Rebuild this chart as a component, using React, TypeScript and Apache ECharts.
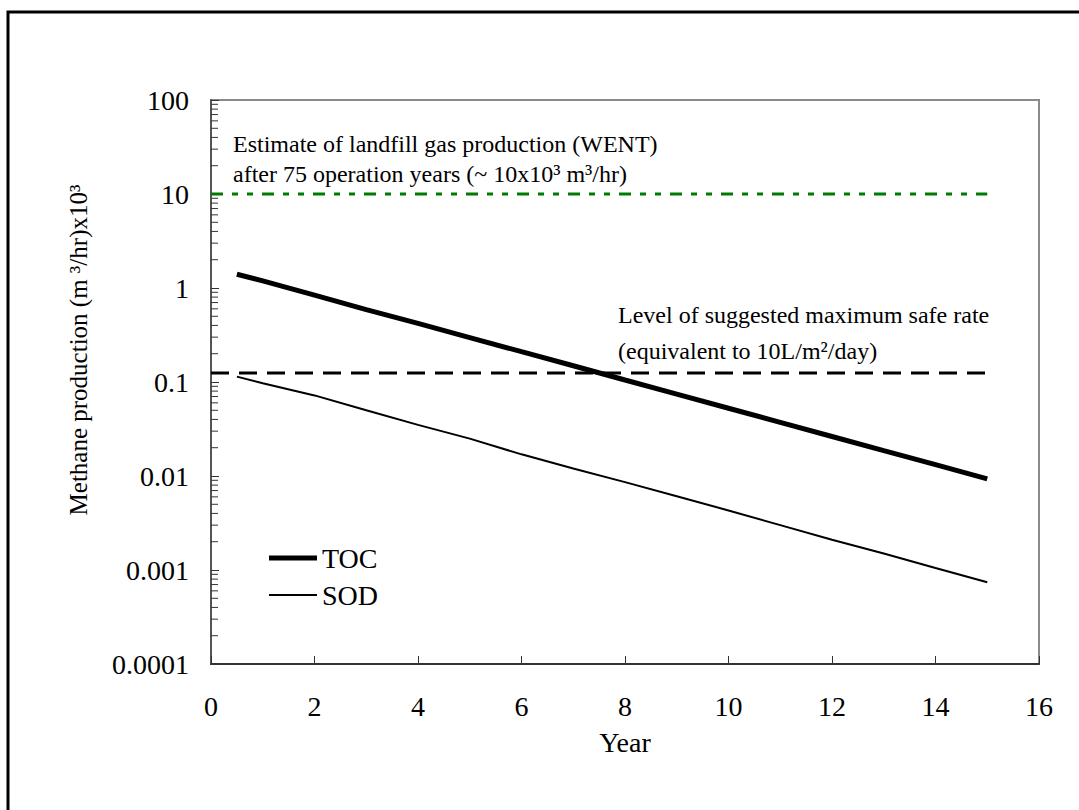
import React, { useEffect, useRef } from "react";
import * as echarts from "echarts";

const years = [0.5, 1, 2, 3, 4, 5, 6, 7, 8, 9, 10, 11, 12, 13, 14, 15];
const tocValues = [1.4, 1.19, 0.84, 0.59, 0.42, 0.297, 0.21, 0.149, 0.105, 0.0744, 0.0526, 0.0372, 0.0263, 0.0186, 0.0132, 0.0093];
const sodValues = [0.114, 0.097, 0.072, 0.05, 0.035, 0.025, 0.017, 0.012, 0.0086, 0.0061, 0.0043, 0.003, 0.0021, 0.0015, 0.00105, 0.00074];
const wentLevel = 10;
const safeLevel = 0.125;
const refLineYears = [0, 15];
const yTickLabels = ["0.0001", "0.001", "0.01", "0.1", "1", "10", "100"];
const xTicks = [0, 2, 4, 6, 8, 10, 12, 14, 16];
const minorMultipliers = [2, 3, 4, 5, 6, 7, 8, 9];
const decades = [0.0001, 0.001, 0.01, 0.1, 1, 10];

const FONT = "'Liberation Serif', 'Times New Roman', serif";

export default function App() {
  const ref = useRef<HTMLDivElement>(null);
  useEffect(() => {
    if (!ref.current) return;
    const chart = echarts.init(ref.current, undefined, { renderer: "svg" });
    const minorTicks: number[][] = [];
    decades.forEach((d) => minorMultipliers.forEach((m) => minorTicks.push([0, d * m])));

    const option: any = {
      animation: false,
      backgroundColor: "#fff",
      textStyle: { fontFamily: FONT, color: "#000" },
      grid: {
        left: 211,
        top: 100,
        right: 40,
        bottom: 146,
        show: true,
        borderColor: "#8a8a8a",
        borderWidth: 2,
      },
      xAxis: {
        type: "value",
        min: xTicks[0],
        max: xTicks[xTicks.length - 1],
        interval: 2,
        axisLine: { lineStyle: { color: "#333", width: 2 } },
        axisTick: { inside: true, length: 8, lineStyle: { color: "#333", width: 1 } },
        axisLabel: { fontSize: 28, color: "#000", fontFamily: FONT, margin: 28 },
        splitLine: { show: false },
      },
      yAxis: {
        type: "log",
        logBase: 10,
        min: 0.0001,
        max: 100,
        interval: 1,
        axisLine: { lineStyle: { color: "#555", width: 2 } },
        axisTick: { inside: true, length: 8, lineStyle: { color: "#333", width: 1 } },
        axisLabel: {
          fontSize: 28,
          color: "#000",
          fontFamily: FONT,
          margin: 22,
          formatter: (v: number) => yTickLabels[Math.round(Math.log10(v)) + 4],
        },
        splitLine: { show: false },
      },
      legend: {
        left: 264,
        top: 539,
        orient: "vertical",
        itemWidth: 48,
        itemHeight: 14,
        itemGap: 9,
        textStyle: { fontSize: 28, color: "#000", fontFamily: FONT },
        data: [
          { name: "TOC", icon: "path://M0,0H48V5H0Z", itemStyle: { color: "#000" } },
          { name: "SOD", icon: "path://M0,0H48V2H0Z", itemStyle: { color: "#000" } },
        ],
      },
      series: [
        {
          name: "TOC",
          type: "line",
          symbol: "none",
          data: years.map((x, i) => [x, tocValues[i]]),
          lineStyle: { color: "#000", width: 5 },
          itemStyle: { color: "#000" },
          z: 5,
        },
        {
          name: "SOD",
          type: "line",
          symbol: "none",
          data: years.map((x, i) => [x, sodValues[i]]),
          lineStyle: { color: "#000", width: 2 },
          itemStyle: { color: "#000" },
          z: 5,
        },
        {
          name: "WENT",
          type: "line",
          symbol: "none",
          data: refLineYears.map((x) => [x, wentLevel]),
          lineStyle: { color: "#007a00", width: 3, type: [12, 9, 6, 9, 6, 9] },
          z: 4,
        },
        {
          name: "Safe rate",
          type: "line",
          symbol: "none",
          data: refLineYears.map((x) => [x, safeLevel]),
          lineStyle: { color: "#000", width: 3, type: [18, 10] },
          z: 4,
        },
        {
          name: "minorTicks",
          type: "custom",
          data: minorTicks,
          encode: { x: 0, y: 1 },
          silent: true,
          renderItem: (params: any, api: any) => {
            const p = api.coord([0, api.value(1)]);
            return {
              type: "line",
              shape: { x1: p[0], y1: p[1], x2: p[0] + 7, y2: p[1] },
              style: { stroke: "#333", lineWidth: 1 },
            };
          },
          z: 3,
        },
      ],
      graphic: [
        {
          type: "rect",
          shape: { x: 8, y: 12, width: 1100, height: 840 },
          style: { fill: "none", stroke: "#000", lineWidth: 3 },
          silent: true,
        },
        {
          type: "text",
          x: 233,
          y: 144,
          style: {
            text: "Estimate of landfill gas production (WENT)",
            fontSize: 24,
            fontFamily: FONT,
            fill: "#000",
            verticalAlign: "middle",
          },
        },
        {
          type: "text",
          x: 233,
          y: 174,
          style: {
            text: "after 75 operation years (~ 10x10³ m³/hr)",
            fontSize: 24,
            fontFamily: FONT,
            fill: "#000",
            verticalAlign: "middle",
          },
        },
        {
          type: "text",
          x: 618,
          y: 315,
          style: {
            text: "Level of suggested maximum safe rate",
            fontSize: 24,
            fontFamily: FONT,
            fill: "#000",
            verticalAlign: "middle",
          },
        },
        {
          type: "text",
          x: 618,
          y: 351,
          style: {
            text: "(equivalent to 10L/m²/day)",
            fontSize: 24,
            fontFamily: FONT,
            fill: "#000",
            verticalAlign: "middle",
          },
        },
        {
          type: "text",
          x: 625,
          y: 742,
          style: {
            text: "Year",
            fontSize: 28,
            fontFamily: FONT,
            fill: "#000",
            align: "center",
            verticalAlign: "middle",
          },
        },
        {
          type: "text",
          x: 78,
          y: 350,
          rotation: Math.PI / 2,
          style: {
            text: "Methane production (m ³/hr)x10³",
            fontSize: 25,
            fontFamily: FONT,
            fill: "#000",
            align: "center",
            verticalAlign: "middle",
          },
        },
      ],
    };
    chart.setOption(option);
    return () => chart.dispose();
  }, []);
  return (
    <div
      ref={ref}
      style={{ position: "fixed", left: 0, top: 0, width: 1079, height: 810, background: "#fff" }}
    />
  );
}
